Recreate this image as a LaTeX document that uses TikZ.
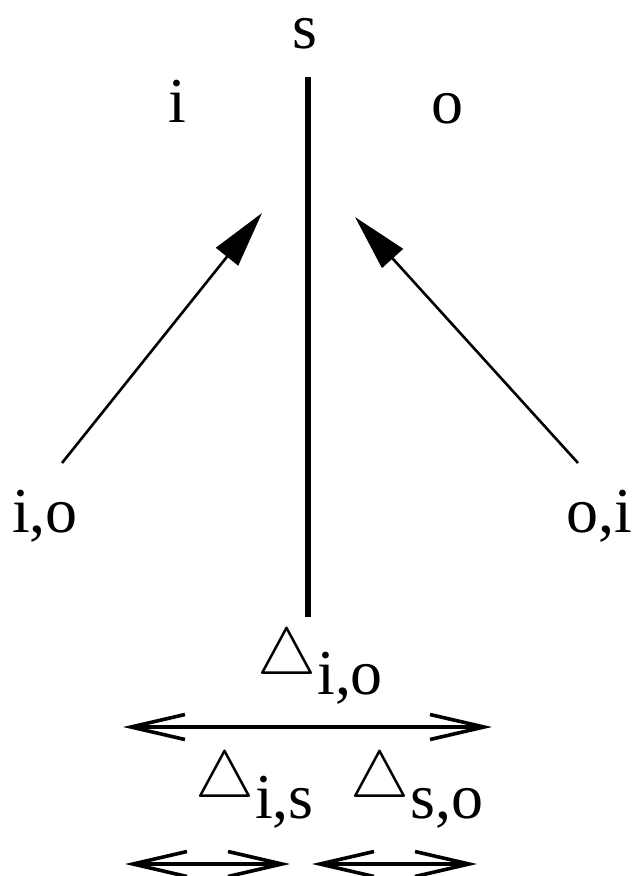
\documentclass[tikz,border=0pt]{standalone}
\usepackage{amsmath}
\usepackage{fontspec}
\setmainfont{Liberation Serif}
\usetikzlibrary{arrows.meta}
\newcommand{\tribig}{\resizebox{59pt}{!}{$\triangle$}}
\tikzset{
  lbl/.style={inner sep=0pt, anchor=base, font=\fontsize{64}{72}\selectfont},
  tri/.style={inner sep=0pt, anchor=base west, font=\fontsize{64}{72}\selectfont},
  divider/.style={line width=6pt},
  pointer/.style={line width=2.6pt, -{Triangle[length=56pt,width=28pt]}},
  span/.style={line width=3.6pt, {Straight Barb[length=54pt,width=25pt,line width=3.6pt]}-{Straight Barb[length=54pt,width=25pt,line width=3.6pt]}}
}
\begin{document}
\begin{tikzpicture}[x=1pt,y=-1pt]
\useasboundingbox (0,0) rectangle (635,876);
\node[lbl, text height=30pt] (s) at (305,48) {s};
\node[lbl] (i) at (177,122) {i};
\node[lbl] (o) at (447,123) {o};
\node[lbl] (io) at (45,532) {i,o};
\node[lbl] (oi) at (599,532) {o,i};
\coordinate (top) at (308,77);
\coordinate (bot) at (308,617);
\draw[divider] (top) -- (bot);
\coordinate (lstart) at (62,463);
\coordinate (ltip) at (262,213);
\coordinate (rstart) at (578,463);
\coordinate (rtip) at (355,217);
\draw[pointer] (lstart) -- (ltip);
\draw[pointer] (rstart) -- (rtip);
\node[tri] (dio) at (257,674) {\tribig\hspace{1pt}\raisebox{-20pt}{i,o}};
\coordinate (a1) at (123,727);
\coordinate (a2) at (492,727);
\draw[span] (a1) -- (a2);
\node[tri] (dis) at (195,797) {\tribig\hspace{1pt}\raisebox{-21pt}{i,s}};
\node[tri] (dso) at (350,797) {\tribig\hspace{1pt}\raisebox{-21pt}{s,o}};
\coordinate (b1) at (125,864);
\coordinate (b2) at (290,864);
\coordinate (b3) at (312,864);
\coordinate (b4) at (477,864);
\draw[span] (b1) -- (b2);
\draw[span] (b3) -- (b4);
\end{tikzpicture}
\end{document}
